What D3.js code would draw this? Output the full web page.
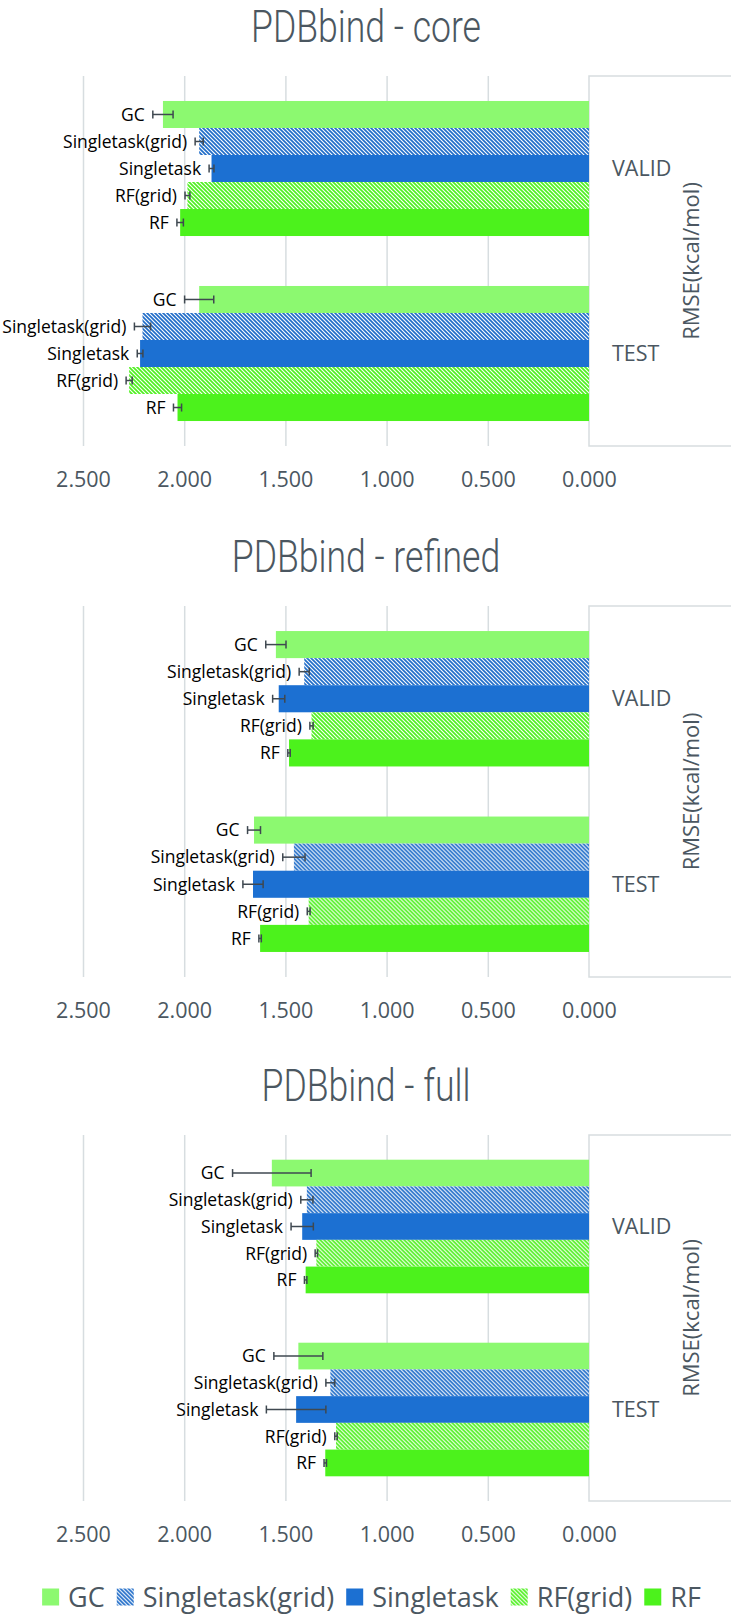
<!DOCTYPE html>
<html>
<head>
<meta charset="utf-8">
<script src="https://cdn.jsdelivr.net/npm/d3@7"></script>
<style>
  html, body { margin: 0; padding: 0; background: #ffffff; }
  svg { display: block; }
</style>
</head>
<body>
<script>
// ---------------- DATA ----------------
const categories = ["VALID", "TEST"];
const series = ["GC", "Singletask(grid)", "Singletask", "RF(grid)", "RF"];
const tickValues = [2.5, 2.0, 1.5, 1.0, 0.5, 0.0];
const tickLabels = ["2.500", "2.000", "1.500", "1.000", "0.500", "0.000"];
const titles = ["PDBbind - core", "PDBbind - refined", "PDBbind - full"];
const axisTitle = "RMSE(kcal/mol)";

// values in series order: GC, Singletask(grid), Singletask, RF(grid), RF
const coreValid      = [2.105, 1.926, 1.865, 1.984, 2.020];
const coreValidErr   = [0.050, 0.020, 0.012, 0.012, 0.016];
const coreTest       = [1.926, 2.206, 2.218, 2.272, 2.033];
const coreTestErr    = [0.072, 0.040, 0.014, 0.015, 0.020];

const refinedValid    = [1.547, 1.407, 1.533, 1.371, 1.482];
const refinedValidErr = [0.050, 0.025, 0.030, 0.008, 0.006];
const refinedTest     = [1.655, 1.458, 1.660, 1.385, 1.625];
const refinedTestErr  = [0.032, 0.055, 0.050, 0.007, 0.006];

const fullValid    = [1.567, 1.394, 1.417, 1.347, 1.400];
const fullValidErr = [0.194, 0.030, 0.055, 0.006, 0.006];
const fullTest     = [1.436, 1.278, 1.447, 1.250, 1.303];
const fullTestErr  = [0.121, 0.022, 0.147, 0.006, 0.006];

// ---------------- LAYOUT / STYLE ----------------
const W = 731, H = 1615;
const panelsY = [[76, 446], [606, 977], [1135, 1501]];
const xLeft = 83, xRight = 589;
const textGray = "#4b5761";
const gridColor = "#d7dde0";
const fills = {
  "GC": "#8cf970",
  "Singletask(grid)": "url(#hatchBlue)",
  "Singletask": "#1c70d2",
  "RF(grid)": "url(#hatchGreen)",
  "RF": "#4cf21c"
};

const panels = [
  { title: titles[0], vals: [coreValid, coreTest], errs: [coreValidErr, coreTestErr] },
  { title: titles[1], vals: [refinedValid, refinedTest], errs: [refinedValidErr, refinedTestErr] },
  { title: titles[2], vals: [fullValid, fullTest], errs: [fullValidErr, fullTestErr] }
];

const svg = d3.select("body").append("svg").attr("width", W).attr("height", H);
svg.append("rect").attr("width", W).attr("height", H).attr("fill", "#fff");

const defs = svg.append("defs");
function hatch(id, color) {
  const p = defs.append("pattern").attr("id", id)
    .attr("patternUnits", "userSpaceOnUse").attr("width", 4).attr("height", 4);
  p.append("rect").attr("width", 4).attr("height", 4).attr("fill", "#fff");
  p.append("path").attr("d", "M-1,-1 L5,5 M-1,3 L1,5 M3,-1 L5,1")
    .attr("stroke", color).attr("stroke-width", 1.7).attr("fill", "none");
}
hatch("hatchBlue", "#1f6cc8");
hatch("hatchGreen", "#4ef01e");

const x = d3.scaleLinear().domain([2.5, 0]).range([xLeft, xRight]);

// title condensation factor (measured once)
const titleSize = 44;
const probe = svg.append("text").attr("font-family", "Roboto, 'Open Sans', sans-serif")
  .attr("font-weight", 300).attr("font-size", titleSize).text(titles[0]);
const titleScale = 230 / probe.node().getComputedTextLength();
probe.remove();

panels.forEach((pd, pi) => {
  const [top, bottom] = panelsY[pi];
  const g = svg.append("g");

  // title
  g.append("text")
    .attr("transform", `translate(366,${top - 34}) scale(${titleScale},1)`)
    .attr("text-anchor", "middle")
    .attr("font-family", "Roboto, 'Open Sans', sans-serif")
    .attr("font-weight", 300).attr("font-size", titleSize)
    .attr("fill", textGray).text(pd.title);

  // gridlines
  const grid = g.append("g").attr("transform", `translate(0,${top})`)
    .call(d3.axisBottom(x).tickValues(tickValues.slice(0, -1)).tickSize(bottom - top).tickFormat(""));
  grid.select(".domain").remove();
  grid.selectAll("line").attr("stroke", gridColor).attr("stroke-width", 1.5);

  // right box (category axis area)
  g.append("path")
    .attr("d", `M${W},${top} H${x(0)} V${bottom} H${W}`)
    .attr("fill", "none").attr("stroke", gridColor).attr("stroke-width", 1.5);

  // tick labels
  const ax = g.append("g").attr("transform", `translate(0,${bottom + 41})`)
    .call(d3.axisBottom(x).tickValues(tickValues).tickSize(0)
      .tickFormat((d, i) => tickLabels[i]));
  ax.select(".domain").remove();
  ax.selectAll("text").attr("y", 0).attr("dy", 0)
    .attr("font-family", "'Open Sans', sans-serif").attr("font-size", 21.5)
    .attr("fill", textGray);

  const y = d3.scaleBand().domain(categories).range([top, bottom]);
  const groupH = y.bandwidth() * 0.73;
  const ys = d3.scaleBand().domain(series).range([0, groupH]);
  const off = (y.bandwidth() - groupH) / 2;

  categories.forEach((cat, ci) => {
    const cg = g.append("g").attr("transform", `translate(0,${y(cat) + off})`);
    const rows = series.map((s, si) => ({ s, v: pd.vals[ci][si], e: pd.errs[ci][si] }));

    cg.selectAll("rect.bar").data(rows).join("rect").attr("class", "bar")
      .attr("x", d => x(d.v)).attr("width", d => x(0) - x(d.v))
      .attr("y", d => ys(d.s)).attr("height", ys.bandwidth())
      .attr("fill", d => fills[d.s]);

    // error bars
    const eb = cg.selectAll("g.err").data(rows).join("g").attr("class", "err")
      .attr("transform", d => `translate(0,${ys(d.s) + ys.bandwidth() / 2})`);
    eb.append("line").attr("x1", d => x(d.v + d.e)).attr("x2", d => x(d.v - d.e))
      .attr("stroke", "#3f4850").attr("stroke-width", 1.5);
    eb.append("line").attr("x1", d => x(d.v + d.e)).attr("x2", d => x(d.v + d.e))
      .attr("y1", -4).attr("y2", 4).attr("stroke", "#3f4850").attr("stroke-width", 1.5);
    eb.append("line").attr("x1", d => x(d.v - d.e)).attr("x2", d => x(d.v - d.e))
      .attr("y1", -4).attr("y2", 4).attr("stroke", "#3f4850").attr("stroke-width", 1.5);

    // bar labels
    eb.append("text").attr("x", d => x(d.v + d.e) - 8).attr("y", 6.3)
      .attr("text-anchor", "end")
      .attr("font-family", "'Open Sans', sans-serif").attr("font-size", 17.5)
      .attr("font-weight", 500)
      .attr("fill", "#000").text(d => d.s);

    // category label
    g.append("text").attr("x", 612).attr("y", y(cat) + y.bandwidth() / 2 + 7.5)
      .attr("font-family", "'Open Sans', sans-serif").attr("font-size", 21.5)
      .attr("fill", textGray).text(cat);
  });

  // axis title (rotated)
  g.append("text")
    .attr("transform", `translate(699,${(top + bottom) / 2}) rotate(-90)`)
    .attr("text-anchor", "middle")
    .attr("font-family", "'Open Sans', sans-serif").attr("font-size", 22)
    .attr("fill", textGray).text(axisTitle);
});

// legend
const leg = svg.append("g");
const legendY = 1597;
let cx = 0;
const items = [];
series.forEach(s => {
  const it = leg.append("g");
  it.append("rect").attr("x", 0).attr("y", -8.5).attr("width", 17).attr("height", 17)
    .attr("fill", fills[s]);
  const t = it.append("text").attr("x", 26).attr("y", 10)
    .attr("font-family", "'Open Sans', sans-serif").attr("font-size", 27)
    .attr("fill", textGray).text(s);
  const w = 26 + t.node().getComputedTextLength();
  items.push({ it, w });
});
const gap = 12;
const total = d3.sum(items, d => d.w) + gap * (items.length - 1);
cx = 371.5 - total / 2;
items.forEach(d => {
  d.it.attr("transform", `translate(${cx},${legendY})`);
  cx += d.w + gap;
});
</script>
</body>
</html>
